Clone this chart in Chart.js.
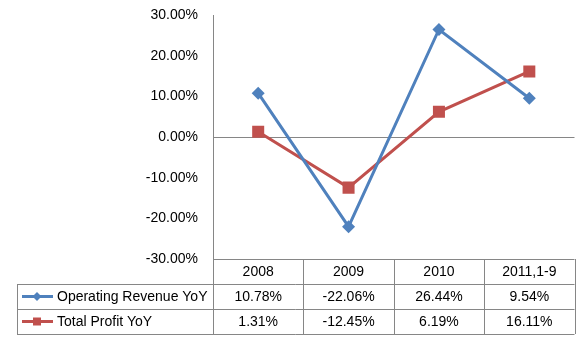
<!DOCTYPE html>
<html>
<head>
<meta charset="utf-8">
<script src="https://cdn.jsdelivr.net/npm/chart.js@4/dist/chart.umd.min.js"></script>
<style>
  html, body { margin: 0; padding: 0; background: #fff; }
  #wrap { width: 583px; height: 339px; }
</style>
</head>
<body>
<div id="wrap"><canvas id="chart" width="583" height="339"></canvas></div>
<script>
// ---- data ----
const categories = ["2008", "2009", "2010", "2011,1-9"];
const revenueYoY = [10.78, -22.06, 26.44, 9.54];
const profitYoY = [1.31, -12.45, 6.19, 16.11];
const yTicks = [-30, -20, -10, 0, 10, 20, 30];

const BLUE = "#4F81BD";
const RED = "#C0504D";
const GRID = "#868686";
const FONT = "Liberation Sans, Arial, sans-serif";
const FONT_SIZE = 14;

// data table under the plot (Excel style)
const tablePlugin = {
    id: "dataTable",
    afterDraw(chart) {
        const ctx = chart.ctx;
        const area = chart.chartArea;
        const xs = chart.scales.x;
        const n = categories.length;
        const colW = (area.right - area.left) / n;
        const rowH = 25;
        const top = area.bottom;
        const tableLeft = 17;

        ctx.save();
        ctx.strokeStyle = GRID;
        ctx.lineWidth = 1;

        const hline = (x1, x2, y) => {
            ctx.beginPath();
            ctx.moveTo(x1, Math.round(y) + 0.5);
            ctx.lineTo(x2, Math.round(y) + 0.5);
            ctx.stroke();
        };
        const vline = (x, y1, y2) => {
            ctx.beginPath();
            ctx.moveTo(Math.round(x) + 0.5, y1);
            ctx.lineTo(Math.round(x) + 0.5, y2);
            ctx.stroke();
        };
        hline(area.left, area.right, top);
        hline(tableLeft, area.right, top + rowH);
        hline(tableLeft, area.right, top + rowH * 2);
        hline(tableLeft, area.right, top + rowH * 3);
        vline(tableLeft, top + rowH, top + rowH * 3);
        for (let i = 0; i <= n; i++) {
            vline(area.left + i * colW, top, top + rowH * 3);
        }

        ctx.fillStyle = "#000";
        ctx.font = FONT_SIZE + "px " + FONT;
        ctx.textAlign = "center";
        ctx.textBaseline = "middle";
        categories.forEach((c, i) => {
            const cx = xs.getPixelForValue(i);
            ctx.fillText(c, cx, top + rowH / 2 + 1);
            ctx.fillText(revenueYoY[i].toFixed(2) + "%", cx, top + rowH * 1.5 + 1);
            ctx.fillText(profitYoY[i].toFixed(2) + "%", cx, top + rowH * 2.5 + 1);
        });

        // legend keys + series names
        const keys = [
            { label: chart.data.datasets[0].label, color: BLUE, shape: "diamond" },
            { label: chart.data.datasets[1].label, color: RED, shape: "square" }
        ];
        keys.forEach((k, r) => {
            const cy = top + rowH * (1.5 + r);
            ctx.strokeStyle = k.color;
            ctx.lineWidth = 3;
            ctx.beginPath();
            ctx.moveTo(22, cy);
            ctx.lineTo(53, cy);
            ctx.stroke();
            ctx.fillStyle = k.color;
            ctx.beginPath();
            if (k.shape === "diamond") {
                ctx.moveTo(37, cy - 4.5);
                ctx.lineTo(41.5, cy);
                ctx.lineTo(37, cy + 4.5);
                ctx.lineTo(32.5, cy);
                ctx.closePath();
            } else {
                ctx.rect(33, cy - 4, 8, 8);
            }
            ctx.fill();
            ctx.fillStyle = "#000";
            ctx.textAlign = "left";
            ctx.fillText(k.label, 57, cy + 1);
        });
        ctx.restore();
    }
};

const ctx = document.getElementById("chart").getContext("2d");
new Chart(ctx, {
    type: "line",
    data: {
        labels: categories,
        datasets: [
            {
                label: "Operating Revenue YoY",
                data: revenueYoY,
                borderColor: BLUE,
                backgroundColor: BLUE,
                borderWidth: 3,
                pointStyle: "rectRot",
                pointRadius: 6.5,
                pointBorderWidth: 0,
                tension: 0
            },
            {
                label: "Total Profit YoY",
                data: profitYoY,
                borderColor: RED,
                backgroundColor: RED,
                borderWidth: 3,
                pointStyle: "rect",
                pointRadius: 8.5,
                pointBorderWidth: 0,
                tension: 0
            }
        ]
    },
    options: {
        responsive: false,
        animation: false,
        layout: { padding: { top: 15, right: 7, bottom: 80, left: 0 } },
        plugins: {
            legend: { display: false },
            tooltip: { enabled: false }
        },
        scales: {
            x: {
                type: "category",
                offset: true,
                display: false
            },
            y: {
                min: -30,
                max: 30,
                afterBuildTicks: (scale) => { scale.ticks = yTicks.map(v => ({ value: v })); },
                afterFit: (scale) => {
                    scale.width = 213;
                    scale.paddingTop = 0;
                    scale.paddingBottom = 0;
                },
                ticks: {
                    color: "#000",
                    padding: 15,
                    font: { family: FONT, size: FONT_SIZE },
                    callback: (v) => v.toFixed(2) + "%"
                },
                grid: {
                    drawTicks: false,
                    color: (c) => (c.tick && c.tick.value === 0 ? GRID : "rgba(0,0,0,0)")
                },
                border: { display: true, color: GRID, width: 1 }
            }
        }
    },
    plugins: [tablePlugin]
});
</script>
</body>
</html>
